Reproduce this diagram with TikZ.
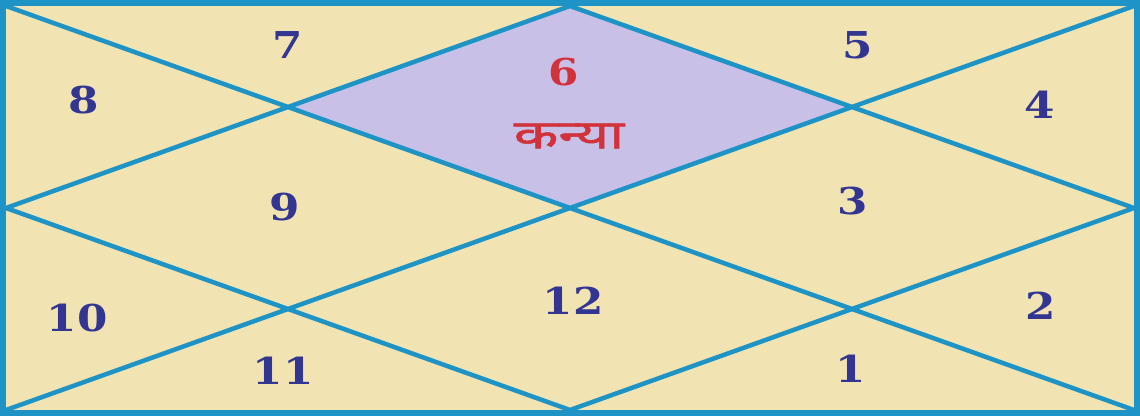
\documentclass[tikz,border=0pt]{standalone}
\usepackage{fontspec}
\usepackage{graphicx}
\setmainfont{DejaVu Serif}
\newfontfamily\deva[Script=Devanagari, FakeBold=1.2]{Noto Sans}
\newcommand{\widenum}[1]{\scalebox{1.18}[1]{#1}}
\definecolor{bgbeige}{HTML}{F2E3B2}
\definecolor{lav}{HTML}{C9C0E8}
\definecolor{linecol}{HTML}{1E93C6}
\definecolor{numblue}{HTML}{323592}
\definecolor{numred}{HTML}{D2323A}
\tikzset{
  num/.style={font=\fontsize{37}{37}\selectfont\bfseries, text=numblue, inner sep=0pt},
  rednum/.style={num, text=numred},
  chartline/.style={draw=linecol, line width=4.5pt, line cap=round},
}
\begin{document}
\begin{tikzpicture}[x=1pt,y=-1pt]
\useasboundingbox (0,0) rectangle (1140,416);
\fill[bgbeige] (0,0) rectangle (1140,416);
% corners and midpoints
\coordinate (tl) at (6,6);
\coordinate (tr) at (1134,6);
\coordinate (br) at (1134,410);
\coordinate (bl) at (6,410);
\coordinate (tm) at (570,6);
\coordinate (rm) at (1134,208);
\coordinate (bm) at (570,410);
\coordinate (lm) at (6,208);
\coordinate (c) at (570,208);
\coordinate (il) at (288,107);
\coordinate (ir) at (852,107);
\fill[lav] (tm) -- (ir) -- (c) -- (il) -- cycle;
\draw[chartline] (tl) -- (br);
\draw[chartline] (tr) -- (bl);
\draw[chartline] (tm) -- (rm) -- (bm) -- (lm) -- cycle;
\draw[draw=linecol, line width=6pt] (3,3) rectangle (1137,413);
% labels
\node[num] (h7) at (288,45) {\widenum{7}};
\node[num] (h5) at (858,45) {\widenum{5}};
\node[num] (h8) at (84,100) {\widenum{8}};
\node[rednum] (h6) at (564,72) {\widenum{6}};
\node[text=numred, inner sep=0pt, font=\deva\fontsize{40}{40}\selectfont] (kanya) at (569,136) {\scalebox{1.45}[1]{कन्या}};
\node[num] (h4) at (1040,105) {\widenum{4}};
\node[num] (h9) at (285,207) {\widenum{9}};
\node[num] (h3) at (853,201) {\widenum{3}};
\node[num] (h12) at (573,301) {\widenum{12}};
\node[num] (h10) at (77,318) {\widenum{10}};
\node[num] (h2) at (1041,306) {\widenum{2}};
\node[num] (h11) at (283,371) {\widenum{11}};
\node[num] (h1) at (851,369) {\widenum{1}};
\end{tikzpicture}
\end{document}
